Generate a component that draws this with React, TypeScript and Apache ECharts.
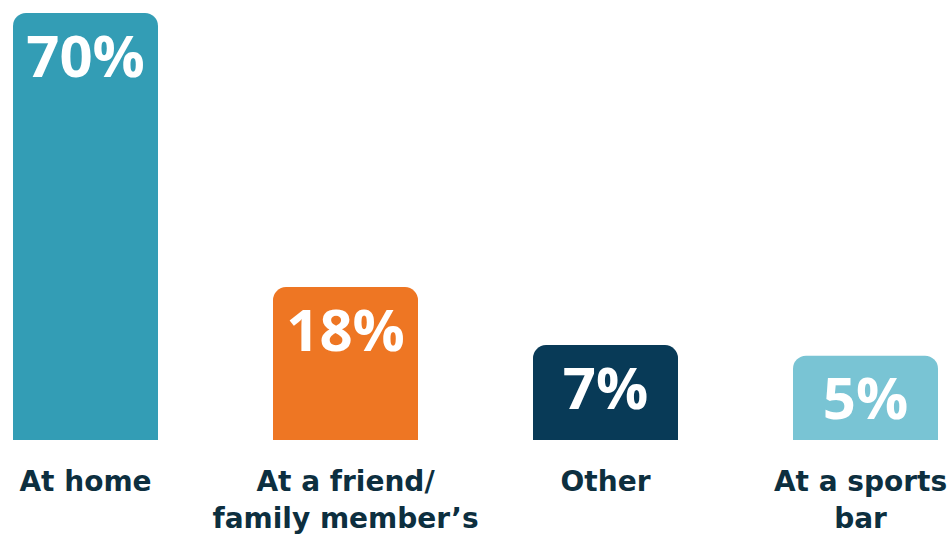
import React, { useEffect, useRef } from "react";
import * as echarts from "echarts";

const categories = ["At home", "At a friend/\nfamily member’s", "Other", "At a sports\nbar"];
const values = [70, 18, 7, 5];
const colors = ["#339db5", "#ee7623", "#083a57", "#79c4d4"];
// visual offset: bars in the source start below zero (not drawn to scale)
const AXIS_MIN = -11;

export default function App() {
  const ref = useRef<HTMLDivElement>(null);
  useEffect(() => {
    const chart = echarts.init(ref.current!, null, { renderer: "svg" });
    chart.setOption({
      animation: false,
      grid: { left: -44.5, right: -45.5, top: 13, bottom: 95, outerBoundsMode: "none" },
      xAxis: {
        type: "category",
        data: categories.map((c, i) =>
          i === categories.length - 1 ? { value: c, textStyle: { padding: [0, 10, 0, 0] } } : c
        ),
        axisLine: { show: false },
        axisTick: { show: false },
        axisLabel: {
          interval: 0,
          margin: 23,
          fontFamily: "'DejaVu Sans', sans-serif",
          fontWeight: 700,
          fontSize: 28,
          lineHeight: 37,
          color: "#0d2f3f",
        },
      },
      yAxis: { type: "value", min: AXIS_MIN, max: 70, show: false, splitLine: { show: false } },
      series: [
        {
          type: "bar",
          barWidth: 145,
          barGap: "-100%",
          z: 1,
          silent: true,
          data: values.map((_, i) => ({ value: AXIS_MIN, itemStyle: { color: colors[i] } })),
          label: { show: false },
        },
        {
          type: "bar",
          barWidth: 145,
          barGap: "-100%",
          z: 2,
          data: values.map((v, i) => ({ value: v, itemStyle: { color: colors[i] } })),
          itemStyle: { borderRadius: [13, 13, 0, 0] },
          label: {
            show: true,
            position: "insideTop",
            distance: 12,
            formatter: "{c}%",
            fontFamily: "'Open Sans', sans-serif",
            fontWeight: 700,
            fontSize: 58,
            color: "#ffffff",
          },
        },
      ],
    });
    return () => chart.dispose();
  }, []);
  return <div ref={ref} style={{ position: "absolute", left: 0, top: 0, width: 950, height: 535 }} />;
}
